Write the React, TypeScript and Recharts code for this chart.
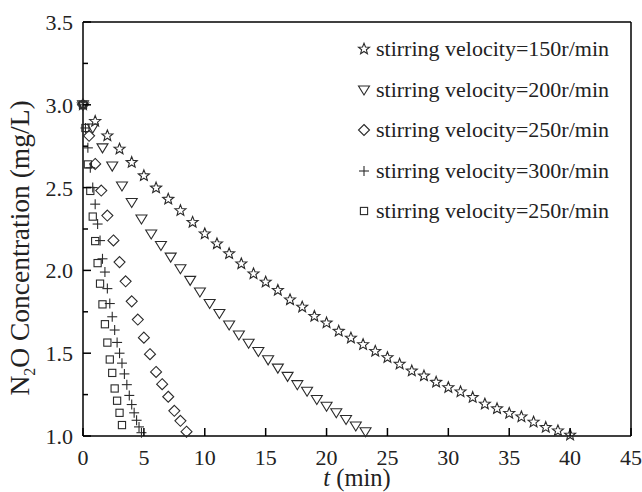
import { ScatterChart, Scatter, XAxis, YAxis, ReferenceLine } from 'recharts';

const time150 = [0, 1, 2, 3, 4, 5, 6, 7, 8, 9, 10, 11, 12, 13, 14, 15, 16, 17, 18, 19, 20, 21, 22, 23, 24, 25, 26, 27, 28, 29, 30, 31, 32, 33, 34, 35, 36, 37, 38, 39, 40];
const conc150 = [3.0, 2.9, 2.813, 2.733, 2.652, 2.572, 2.498, 2.43, 2.361, 2.291, 2.221, 2.161, 2.101, 2.04, 1.98, 1.93, 1.88, 1.823, 1.779, 1.723, 1.683, 1.633, 1.592, 1.552, 1.512, 1.474, 1.434, 1.393, 1.363, 1.325, 1.293, 1.267, 1.233, 1.193, 1.165, 1.137, 1.116, 1.084, 1.052, 1.032, 1.006];

const time200 = [0, 0.8, 1.6, 2.4, 3.2, 4.0, 4.8, 5.6, 6.4, 7.2, 8.0, 8.8, 9.6, 10.4, 11.2, 12.0, 12.8, 13.6, 14.4, 15.2, 16.0, 16.8, 17.6, 18.4, 19.2, 20.0, 20.8, 21.6, 22.4, 23.2];
const conc200 = [3.0, 2.86, 2.74, 2.63, 2.51, 2.41, 2.31, 2.22, 2.15, 2.08, 2.01, 1.94, 1.87, 1.8, 1.74, 1.67, 1.61, 1.56, 1.51, 1.46, 1.41, 1.36, 1.31, 1.27, 1.22, 1.18, 1.14, 1.1, 1.06, 1.026];

const time250 = [0, 0.5, 1.0, 1.5, 2.0, 2.5, 3.0, 3.5, 4.0, 4.5, 5.0, 5.5, 6.0, 6.5, 7.0, 7.5, 8.0, 8.5];
const conc250 = [3.0, 2.813, 2.643, 2.482, 2.331, 2.181, 2.05, 1.934, 1.813, 1.703, 1.594, 1.494, 1.387, 1.313, 1.237, 1.152, 1.092, 1.026];

const time300 = [0, 0.2, 0.4, 0.6, 0.8, 1.0, 1.2, 1.4, 1.6, 1.8, 2.0, 2.2, 2.4, 2.6, 2.8, 3.0, 3.2, 3.4, 3.6, 3.8, 4.0, 4.2, 4.4, 4.6, 4.8];
const conc300 = [3.0, 2.86, 2.74, 2.62, 2.5, 2.4, 2.28, 2.18, 2.07, 1.99, 1.89, 1.8, 1.72, 1.64, 1.565, 1.5, 1.44, 1.375, 1.31, 1.245, 1.19, 1.14, 1.095, 1.055, 1.02];

const time250b = [0, 0.2, 0.4, 0.6, 0.8, 1.0, 1.2, 1.4, 1.6, 1.8, 2.0, 2.2, 2.4, 2.6, 2.8, 3.0, 3.2];
const conc250b = [3.0, 2.86, 2.64, 2.48, 2.325, 2.177, 2.044, 1.92, 1.795, 1.675, 1.564, 1.462, 1.381, 1.287, 1.213, 1.14, 1.066];

const xTicks = [0, 5, 10, 15, 20, 25, 30, 35, 40, 45];
const yTicks = [1.0, 1.25, 1.5, 1.75, 2.0, 2.25, 2.5, 2.75, 3.0, 3.25, 3.5];
const yMajor = [1.0, 1.5, 2.0, 2.5, 3.0, 3.5];

const seriesNames = [
  'stirring velocity=150r/min',
  'stirring velocity=200r/min',
  'stirring velocity=250r/min',
  'stirring velocity=300r/min',
  'stirring velocity=250r/min',
];

const FONT = "'Liberation Serif', 'Times New Roman', serif";
const INK = '#2a2a2a';

const toPoints = (ts: number[], cs: number[]) => ts.map((t, i) => ({ t, c: cs[i] }));

// marker shapes, drawn around (cx, cy)
const drawMarker = (kind: string, cx: number, cy: number) => {
  const sw = 1.1;
  if (kind === 'star') {
    const pts: string[] = [];
    for (let k = 0; k < 10; k++) {
      const r = k % 2 === 0 ? 5.8 : 2.5;
      const a = -Math.PI / 2 + (k * Math.PI) / 5;
      pts.push(`${cx + r * Math.cos(a)},${cy + r * Math.sin(a)}`);
    }
    return <polygon points={pts.join(' ')} fill="none" stroke={INK} strokeWidth={sw} />;
  }
  if (kind === 'tri') {
    return <polygon points={`${cx - 5.5},${cy - 4} ${cx + 5.5},${cy - 4} ${cx},${cy + 5}`} fill="none" stroke={INK} strokeWidth={sw} />;
  }
  if (kind === 'diamond') {
    return <polygon points={`${cx},${cy - 5.5} ${cx + 5.5},${cy} ${cx},${cy + 5.5} ${cx - 5.5},${cy}`} fill="none" stroke={INK} strokeWidth={sw} />;
  }
  if (kind === 'plus') {
    return (
      <g stroke={INK} strokeWidth={sw}>
        <line x1={cx - 5} x2={cx + 5} y1={cy} y2={cy} />
        <line x1={cx} x2={cx} y1={cy - 5} y2={cy + 5} />
      </g>
    );
  }
  return <rect x={cx - 3.6} y={cy - 3.6} width={7.2} height={7.2} fill="none" stroke={INK} strokeWidth={sw} />;
};

const markerKinds = ['star', 'tri', 'diamond', 'plus', 'square'];

const shapeOf = (kind: string) => (props: any) => drawMarker(kind, props.cx, props.cy);

const YTick = (props: any) => {
  const { x, y, payload } = props;
  const major = yMajor.includes(payload.value);
  return (
    <g>
      <line x1={x} x2={x + (major ? 8 : 5)} y1={y} y2={y} stroke="#000" strokeWidth={1.5} />
      {major && (
        <text x={x - 10} y={y} dy="0.36em" textAnchor="end" fontFamily={FONT} fontSize={22} fill="#222">
          {payload.value.toFixed(1)}
        </text>
      )}
    </g>
  );
};

const XTick = (props: any) => {
  const { x, y, payload } = props;
  return (
    <g>
      <line x1={x} x2={x} y1={y} y2={y - 8} stroke="#000" strokeWidth={1.5} />
      <text x={x} y={y + 29} textAnchor="middle" fontFamily={FONT} fontSize={22} fill="#222">
        {payload.value}
      </text>
    </g>
  );
};

const YLabel = () => (
  <text transform="translate(29, 248) rotate(-90)" textAnchor="middle" fontFamily={FONT} fontSize={27.5} fill="#222">
    N<tspan fontSize={16} dy={6}>2</tspan>
    <tspan dy={-6}>O Concentration (mg/L)</tspan>
  </text>
);

const XLabel = () => (
  <text x={357} y={486} textAnchor="middle" fontFamily={FONT} fontSize={24.5} fill="#222">
    <tspan fontStyle="italic">t</tspan> (min)
  </text>
);

const LegendBox = () => (
  <div style={{ position: 'absolute', left: 356, top: 29, fontFamily: FONT, fontSize: 22, color: '#222' }}>
    {seriesNames.map((name, i) => (
      <div key={i} style={{ display: 'flex', alignItems: 'center', height: 40.5 }}>
        <svg width={16} height={16} style={{ marginRight: 4 }}>
          {drawMarker(markerKinds[i], 8, 8)}
        </svg>
        <span style={{ whiteSpace: 'nowrap' }}>{name}</span>
      </div>
    ))}
  </div>
);

export default function App() {
  const series = [
    toPoints(time150, conc150),
    toPoints(time200, conc200),
    toPoints(time250, conc250),
    toPoints(time300, conc300),
    toPoints(time250b, conc250b),
  ];

  return (
    <div style={{ position: 'absolute', left: 0, top: 0, width: 642, height: 492, background: '#fff' }}>
      <ScatterChart width={642} height={492} margin={{ top: 22, right: 11, left: 0, bottom: 0 }}>
        <XAxis
          type="number"
          dataKey="t"
          domain={[0, 45]}
          ticks={xTicks}
          interval={0}
          height={56}
          tickSize={0}
          tickMargin={0}
          tickLine={false}
          axisLine={{ stroke: '#000', strokeWidth: 1.5 }}
          tick={<XTick />}
          label={<XLabel />}
        />
        <YAxis
          type="number"
          dataKey="c"
          domain={[1, 3.5]}
          ticks={yTicks}
          interval={0}
          width={83}
          tickSize={0}
          tickMargin={0}
          tickLine={false}
          axisLine={{ stroke: '#000', strokeWidth: 1.5 }}
          tick={<YTick />}
          label={<YLabel />}
        />
        <ReferenceLine y={3.5} stroke="#000" strokeWidth={1.5} />
        <ReferenceLine x={45} stroke="#000" strokeWidth={1.5} />
        {series.map((data, i) => (
          <Scatter
            key={i}
            name={seriesNames[i]}
            data={data}
            shape={shapeOf(markerKinds[i])}
            isAnimationActive={false}
          />
        ))}
      </ScatterChart>
      <LegendBox />
    </div>
  );
}
